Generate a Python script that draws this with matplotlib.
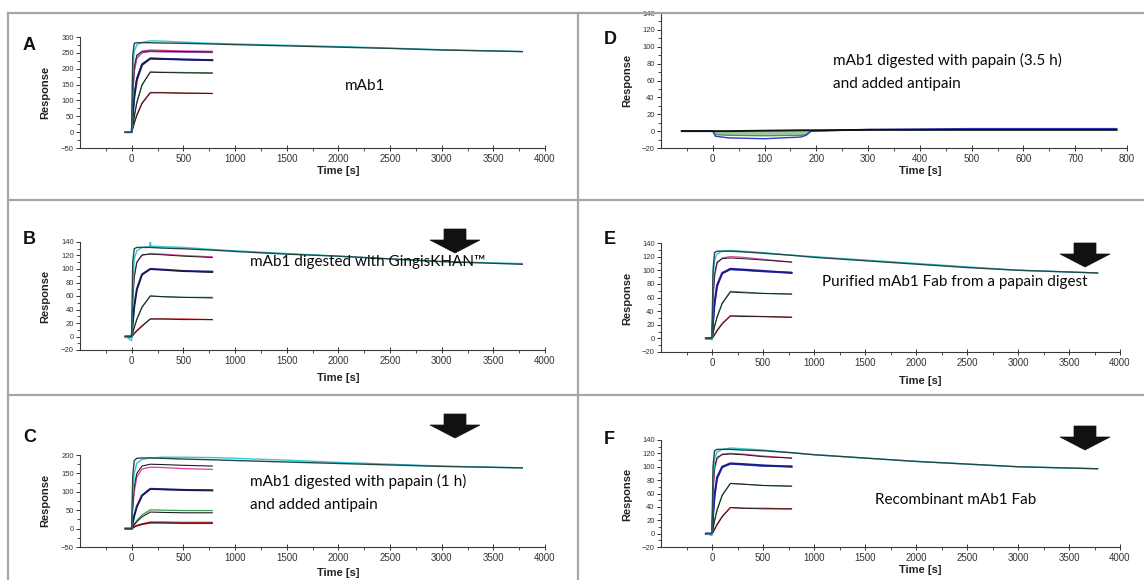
import matplotlib
matplotlib.use("Agg")
import matplotlib.pyplot as plt
from matplotlib.patches import Polygon
import numpy as np

W, H = 1144, 580

# ---------------- data ----------------
T_SHORT = [-60, 0, 10, 25, 50, 100, 180, 300, 500, 780]
T_LONG = [-60, 0, 10, 25, 50, 100, 180, 300, 500, 780, 1000, 1500, 2000, 2500, 3000, 3780]
T_SPIKE = [-60, 0, 10, 25, 50, 100, 175, 180, 186, 300, 500, 780, 1000, 1500, 2000, 2500, 3000, 3780]
T_D = [-60, 0, 5, 30, 100, 170, 180, 190, 300, 500, 780]

# Panel A: mAb1
A_red = [0, 0, 12, 30, 55, 92, 125, 125, 123, 122]
A_red_fit = [0, 0, 10, 27, 52, 90, 124, 124, 123, 122]
A_green = [0, 0, 20, 50, 95, 150, 190, 189, 188, 187]
A_green_fit = [0, 0, 18, 48, 92, 148, 189, 188, 187, 186]
A_blue = [0, 0, 50, 110, 165, 212, 232, 231, 229, 227]
A_blue2 = [0, 0, 55, 115, 170, 215, 233, 231, 229, 228]
A_blue_fit = [0, 0, 52, 112, 168, 214, 232, 230, 229, 227]
A_pink = [0, 0, 120, 200, 240, 255, 259, 258, 256, 255]
A_purple = [0, 0, 110, 190, 232, 250, 254, 253, 252, 251]
A_pink_fit = [0, 0, 125, 205, 243, 254, 256, 255, 254, 253]
A_cyan = [0, 0, 180, 255, 275, 283, 288, 287, 284, 280, 278, 274, 270, 265, 260, 254]
A_top_fit = [0, 0, 240, 280, 282, 282, 282, 281, 280, 278, 276, 272, 268, 264, 259, 254]

# Panel B: GingisKHAN digest
B_red = [0, -1, 2, 5, 9, 16, 26, 26, 26, 25]
B_red_fit = [0, 0, 1, 4, 8, 15, 26, 26, 25, 25]
B_green = [0, 0, 6, 14, 26, 44, 60, 59, 58, 58]
B_green_fit = [0, 0, 5, 13, 25, 43, 60, 59, 58, 57]
B_blue = [0, 0, 20, 45, 70, 92, 100, 99, 97, 96]
B_blue_fit = [0, 0, 19, 44, 69, 91, 100, 99, 97, 95]
B_pink = [0, 0, 55, 90, 110, 120, 123, 122, 120, 118]
B_pink_fit = [0, 0, 52, 88, 110, 121, 122, 121, 119, 117]
B_cyan = [0, -6, 70, 115, 127, 132, 133, 143, 134, 133, 132, 129, 127, 123, 119, 115, 111, 108]
B_top_fit = [0, 0, 110, 130, 132, 132, 132, 131, 130, 128, 126, 122, 119, 115, 111, 107]

# Panel C: papain 1 h + antipain
C_red = [0, -2, 2, 5, 9, 13, 18, 18, 17, 17]
C_red2 = [0, -2, 1, 4, 7, 11, 15, 15, 14, 14]
C_red_fit = [0, 0, 1, 4, 8, 12, 16, 16, 15, 15]
C_green = [0, 0, 5, 12, 22, 37, 51, 50, 49, 49]
C_green_fit = [0, 0, 4, 10, 19, 32, 45, 44, 43, 43]
C_blue = [0, 0, 15, 35, 60, 90, 108, 107, 105, 104]
C_blue_fit = [0, 0, 14, 34, 59, 89, 107, 106, 105, 104]
C_magenta = [0, 0, 50, 100, 140, 162, 167, 166, 163, 161]
C_mag_fit = [0, 0, 60, 115, 150, 170, 175, 174, 172, 170]
C_cyan = [0, 0, 90, 150, 178, 188, 192, 194, 194, 193, 191, 186, 180, 175, 170, 165]
C_top_fit = [0, 0, 140, 185, 191, 192, 192, 191, 189, 187, 185, 181, 177, 173, 169, 165]

# Panel D: papain 3.5 h + antipain
D_black = [0, 0, 0, 0, 0.5, 1, 1, 1, 1.5, 1.5, 1.5]
D_blue = [0, 0, -6, -8, -9, -7, -5, 0, 2, 3, 3]
D_green = [0, 0, -4, -5, -5.5, -5, -4, 0, 1.5, 2, 2]

# Panel E: purified Fab from papain digest
E_red = [0, 0, 2, 6, 12, 22, 33, 33, 32, 31]
E_red_fit = [0, 0, 2, 5, 11, 21, 33, 32, 32, 31]
E_green = [0, 0, 8, 18, 32, 52, 69, 68, 66, 65]
E_green_fit = [0, 0, 7, 17, 31, 51, 68, 67, 66, 65]
E_blue = [0, 0, 25, 52, 78, 96, 102, 101, 99, 96]
E_blue2 = [0, 0, 22, 50, 76, 95, 101, 100, 98, 97]
E_magenta = [0, 0, 55, 90, 110, 118, 120, 119, 116, 112]
E_mag_fit = [0, 0, 60, 95, 112, 117, 118, 117, 115, 112]
E_cyan = [0, -2, 80, 115, 124, 128, 129, 128, 126, 122, 120, 115, 110, 105, 100, 96]
E_top_fit = [0, 0, 100, 126, 128, 128, 128, 127, 125, 122, 119, 114, 109, 104, 100, 96]

# Panel F: recombinant Fab
F_red = [0, 0, 2, 7, 14, 26, 39, 38, 38, 37]
F_red_fit = [0, 0, 2, 6, 13, 25, 39, 38, 37, 37]
F_green = [0, 0, 8, 20, 36, 58, 75, 74, 72, 71]
F_green_fit = [0, 0, 7, 19, 35, 57, 75, 74, 72, 71]
F_blue = [0, 0, 28, 58, 84, 100, 105, 104, 102, 100]
F_blue2 = [0, 0, 25, 55, 82, 99, 104, 103, 101, 101]
F_magenta = [0, 0, 60, 95, 112, 119, 120, 119, 116, 113]
F_mag_fit = [0, 0, 65, 100, 114, 118, 119, 118, 115, 113]
F_cyan = [0, -3, 80, 112, 122, 126, 128, 127, 125, 121, 118, 113, 108, 104, 100, 97]
F_top_fit = [0, 0, 100, 124, 126, 126, 126, 125, 124, 121, 118, 113, 108, 104, 100, 97]

# ---------------- styles ----------------
RED = "#e02828"
GREEN = "#3f9a55"
BLUE = "#1c1c8c"
BLUE2 = "#3535c8"
PINK = "#d8409e"
PURPLE = "#9a4ab0"
CYAN = "#35c8d8"
FIT = "#1e1e1e"
TOPFIT = "#224848"

plt.rcParams["font.family"] = ["Liberation Sans", "DejaVu Sans"]
fig = plt.figure(figsize=(W / 100, H / 100), dpi=100)
fig.patch.set_facecolor("white")


def fx(x):
    return x / W


def fy(y):
    return 1 - y / H


def make_ax(x0, x1, ytop, ybot, xlim, ylim, xmaj, xmin, ymaj, ymin):
    ax = fig.add_axes([fx(x0), fy(ybot), fx(x1 - x0), (ybot - ytop) / H])
    ax.set_xlim(*xlim)
    ax.set_ylim(*ylim)
    for s in ("top", "right"):
        ax.spines[s].set_visible(False)
    for s in ("left", "bottom"):
        ax.spines[s].set_color("#3a3a3a")
        ax.spines[s].set_linewidth(0.8)
    ax.set_xticks(xmaj)
    ax.set_xticks(xmin, minor=True)
    ax.set_yticks(ymaj)
    ax.set_yticks(ymin, minor=True)
    ax.tick_params(axis="x", which="major", direction="inout", length=5, width=0.7,
                   labelsize=7, colors="#333333", pad=2)
    ax.tick_params(axis="x", which="minor", direction="out", length=2.5, width=0.6, colors="#333333")
    ax.tick_params(axis="y", which="major", direction="out", length=3, width=0.7,
                   labelsize=5.5, colors="#333333", pad=1.5)
    ax.tick_params(axis="y", which="minor", direction="out", length=2, width=0.6, colors="#333333")
    ax.set_facecolor("none")
    return ax


def ylabel(x, yc):
    fig.text(fx(x), fy(yc), "Response", rotation=90, ha="center", va="center",
             fontsize=8, fontweight="bold", color="#222222")


def xlabel(xc, y):
    fig.text(fx(xc), fy(y), "Time [s]", ha="center", va="center",
             fontsize=8, fontweight="bold", color="#222222")


def letter(x, y, s):
    fig.text(fx(x), fy(y), s, ha="left", va="center", fontsize=13, fontweight="bold", color="#111111")


def note(x, y, s, ha="left"):
    fig.text(fx(x), fy(y), s, ha=ha, va="center", fontsize=11, color="#0a0a0a",
             family=["Lato", "DejaVu Sans"])


def arrow(xc, ytop):
    pts = [(-11, 0), (11, 0), (11, 11), (25, 11), (0, 24), (-25, 11), (-11, 11)]
    poly = Polygon([(fx(xc + a), fy(ytop + b)) for a, b in pts], closed=True,
                   transform=fig.transFigure, facecolor="#111111", edgecolor="#111111", lw=0.5)
    fig.patches.append(poly)


def curves(ax, t, pairs):
    for y, c, w in pairs:
        ax.plot(t, y, color=c, lw=w, solid_joinstyle="round")


# ---------------- frame lines ----------------
line_kw = dict(color="#a6a6a6", lw=1.6, transform=fig.transFigure)
fig.lines.append(plt.Line2D([fx(8), 1], [fy(13), fy(13)], **line_kw))
fig.lines.append(plt.Line2D([fx(8), 1], [fy(200), fy(200)], **line_kw))
fig.lines.append(plt.Line2D([fx(8), 1], [fy(395), fy(395)], **line_kw))
fig.lines.append(plt.Line2D([fx(8), fx(8)], [fy(13), 0], **line_kw))
fig.lines.append(plt.Line2D([fx(578), fx(578)], [fy(13), 0], **line_kw))

LX = dict(xlim=(-500, 4000), xmaj=np.arange(0, 4001, 500), xmin=np.arange(-250, 4000, 500))

# ---------------- Panel A ----------------
axA = make_ax(80, 545, 37, 148, ylim=(-50, 300), ymaj=np.arange(-50, 301, 50),
              ymin=np.arange(-25, 300, 50), **LX)
curves(axA, T_SHORT, [(A_red, RED, 0.9), (A_red_fit, FIT, 0.7), (A_green, GREEN, 0.9),
                      (A_green_fit, FIT, 0.7), (A_blue2, BLUE2, 1.0), (A_blue, BLUE, 1.5),
                      (A_blue_fit, FIT, 0.7), (A_purple, PURPLE, 0.9), (A_pink, PINK, 0.9),
                      (A_pink_fit, FIT, 0.7)])
curves(axA, T_LONG, [(A_cyan, CYAN, 1.0), (A_top_fit, TOPFIT, 1.0)])
letter(23, 45, "A")
ylabel(45, 92)
xlabel(338, 171)
note(345, 86, "mAb1")

# ---------------- Panel B ----------------
axB = make_ax(80, 545, 242, 350, ylim=(-20, 140), ymaj=np.arange(-20, 141, 20),
              ymin=np.arange(-10, 140, 20), **LX)
curves(axB, T_SHORT, [(B_red, RED, 0.9), (B_red_fit, FIT, 0.7), (B_green, GREEN, 0.9),
                      (B_green_fit, FIT, 0.7), (B_blue, BLUE, 1.5), (B_blue_fit, FIT, 0.7),
                      (B_pink, PINK, 0.9), (B_pink_fit, FIT, 0.7)])
axB.plot(T_SPIKE, B_cyan, color=CYAN, lw=1.0)
axB.plot(T_LONG, B_top_fit, color=TOPFIT, lw=1.0)
letter(23, 240, "B")
ylabel(45, 296)
xlabel(338, 378)
note(250, 262, "mAb1 digested with GingisKHAN™")
arrow(455, 229)

# ---------------- Panel C ----------------
axC = make_ax(80, 545, 455, 547, ylim=(-50, 200), ymaj=np.arange(-50, 201, 50),
              ymin=np.arange(-25, 200, 50), **LX)
curves(axC, T_SHORT, [(C_red, RED, 0.9), (C_red2, RED, 0.9), (C_red_fit, FIT, 0.7),
                      (C_green, GREEN, 0.9), (C_green_fit, FIT, 0.8), (C_blue, BLUE, 1.5),
                      (C_blue_fit, FIT, 0.7), (C_magenta, PINK, 0.9), (C_mag_fit, FIT, 0.8)])
curves(axC, T_LONG, [(C_cyan, CYAN, 1.0), (C_top_fit, TOPFIT, 1.0)])
letter(23, 437, "C")
ylabel(45, 500)
xlabel(338, 573)
note(250, 481, "mAb1 digested with papain (1 h)")
note(250, 505, "and added antipain")
arrow(455, 414)

# ---------------- Panel D ----------------
axD = make_ax(661, 1127, 13, 148, xlim=(-100, 800), xmaj=np.arange(0, 801, 100),
              xmin=np.arange(-50, 800, 100), ylim=(-20, 140), ymaj=np.arange(-20, 141, 20),
              ymin=np.arange(-10, 140, 20))
axD.fill_between(T_D[1:8], D_green[1:8], D_black[1:8], color="#9cc79c", lw=0)
axD.plot(T_D, D_green, color=GREEN, lw=0.9)
axD.plot(T_D, D_blue, color=BLUE2, lw=1.0)
axD.plot(T_D, D_black, color="#111111", lw=1.4)
letter(604, 40, "D")
ylabel(627, 80)
xlabel(920, 171)
note(833, 60, "mAb1 digested with papain (3.5 h)")
note(833, 84, "and added antipain")

# ---------------- Panel E ----------------
axE = make_ax(661, 1120, 243, 352, ylim=(-20, 140), ymaj=np.arange(-20, 141, 20),
              ymin=np.arange(-10, 140, 20), **LX)
curves(axE, T_SHORT, [(E_red, RED, 0.9), (E_red_fit, FIT, 0.7), (E_green, GREEN, 0.9),
                      (E_green_fit, FIT, 0.7), (E_blue2, BLUE2, 1.0), (E_blue, BLUE, 1.5),
                      (E_magenta, PINK, 0.9), (E_mag_fit, FIT, 0.7)])
curves(axE, T_LONG, [(E_cyan, CYAN, 1.0), (E_top_fit, TOPFIT, 1.0)])
letter(604, 240, "E")
ylabel(627, 298)
xlabel(920, 381)
note(822, 282, "Purified mAb1 Fab from a papain digest")
arrow(1085, 243)

# ---------------- Panel F ----------------
axF = make_ax(661, 1120, 440, 547, ylim=(-20, 140), ymaj=np.arange(-20, 141, 20),
              ymin=np.arange(-10, 140, 20), **LX)
curves(axF, T_SHORT, [(F_red, RED, 0.9), (F_red_fit, FIT, 0.7), (F_green, GREEN, 0.9),
                      (F_green_fit, FIT, 0.7), (F_blue2, BLUE2, 1.0), (F_blue, BLUE, 1.5),
                      (F_magenta, PINK, 0.9), (F_mag_fit, FIT, 0.7)])
curves(axF, T_LONG, [(F_cyan, CYAN, 1.0), (F_top_fit, TOPFIT, 1.0)])
letter(604, 440, "F")
ylabel(627, 494)
xlabel(920, 570)
note(875, 500, "Recombinant mAb1 Fab")
arrow(1085, 426)

fig.savefig("out.png", dpi=100, facecolor="white")
